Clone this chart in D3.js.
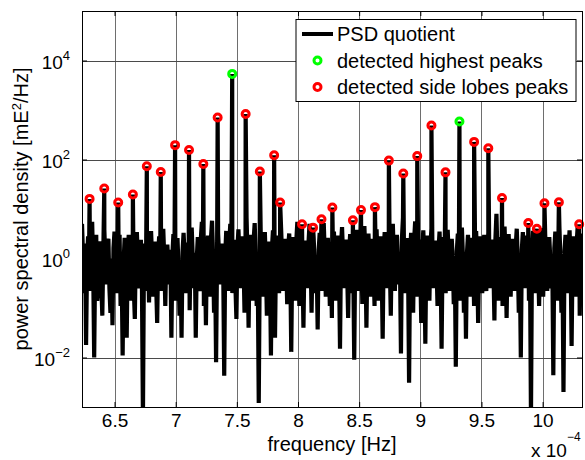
<!DOCTYPE html>
<html>
<head>
<meta charset="utf-8">
<script src="https://cdn.jsdelivr.net/npm/d3@7"></script>
<style>
  body { margin: 0; background: #fff; }
  svg { display: block; font-family: "Liberation Sans", Arial, sans-serif; }
</style>
</head>
<body>
<div id="chart"></div>
<script>
// frequency bins of the PSD quotient (Hz)
const binStart = 6.234e-4;
const binStep = 0.008305e-4;

// PSD quotient noise floor, one value per bin
const noiseValues = [
  5.0, 1.2, 0.2, 2.0, 0.018, 0.9, 2.8, 1.5, 0.22, 3.5, 5.5, 0.7, 0.01, 1.1, 3.0, 0.14, 0.25, 1.8, 2.2, 0.3,
  0.07, 1.4, 3.8, 0.9, 0.3, 2.1, 2.5, 0.25, 0.08, 1.0, 0.045, 1.6, 3.5, 1.2, 0.2, 0.8, 1.8, 3.0, 0.11, 0.7,
  0.011, 0.9, 2.6, 1.1, 0.025, 1.3, 3.0, 0.8, 0.14, 1.5, 1.6, 0.25, 0.06, 1.8, 3.4, 1.0, 0.25, 0.9, 2.4, 0.3,
  0.0006, 1.1, 2.0, 0.7, 0.22, 1.2, 0.13, 2.2, 3.6, 1.0, 0.17, 1.6, 2.2, 0.3, 0.05, 1.3, 2.8, 1.1, 0.22, 2.1,
  4.0, 1.0, 0.11, 1.3, 1.9, 0.8, 0.3, 1.5, 0.025, 1.2, 3.1, 0.9, 0.14, 1.7, 2.6, 0.7, 0.07, 0.9, 0.025, 1.4,
  3.3, 1.2, 0.2, 1.0, 2.1, 0.3, 0.09, 2.4, 4.2, 1.1, 0.25, 1.3, 0.025, 1.0, 2.7, 0.8, 0.22, 2.5, 5.5, 1.4,
  0.11, 0.9, 0.045, 1.5, 2.9, 1.0, 0.17, 2.6, 5.8, 1.2, 0.08, 0.8, 0.008, 1.4, 3.2, 1.1, 0.3, 1.3, 2.0, 0.7,
  0.0043, 1.2, 3.6, 0.9, 0.22, 2.2, 5.0, 1.3, 0.2, 1.0, 2.4, 0.3, 0.06, 1.6, 3.9, 1.1, 0.25, 1.4, 2.8, 0.9,
  0.08, 2.5, 6.8, 1.0, 0.04, 1.3, 3.0, 0.8, 0.14, 2.4, 5.2, 1.1, 0.11, 0.6, 0.0012, 0.9, 2.6, 1.2, 0.17, 1.5,
  3.4, 0.8, 0.07, 1.1, 2.2, 0.7, 0.011, 1.6, 3.7, 0.9, 0.025, 1.2, 2.9, 1.0, 0.2, 2.0, 4.1, 1.1, 0.22, 1.3,
  2.5, 0.9, 0.12, 1.7, 3.2, 0.8, 0.013, 1.2, 2.7, 1.0, 0.14, 2.3, 5.5, 1.2, 0.11, 1.4, 3.0, 0.7, 0.04, 1.1,
  2.3, 1.0, 0.25, 2.1, 5.0, 1.1, 0.08, 1.3, 2.8, 0.9, 0.2, 0.8, 0.037, 1.5, 3.3, 1.0, 0.22, 2.2, 5.2, 1.2,
  0.17, 1.4, 2.6, 0.8, 0.11, 1.0, 0.063, 1.7, 3.5, 1.1, 0.14, 1.3, 2.9, 0.7, 0.015, 1.9, 4.3, 1.2, 0.25, 1.0,
  2.4, 0.6, 0.063, 1.4, 3.1, 1.0, 0.2, 0.8, 0.009, 1.5, 3.8, 1.2, 0.22, 1.1, 2.7, 1.3, 0.12, 2.0, 4.5, 1.1,
  0.04, 1.2, 3.2, 1.0, 0.17, 1.4, 2.5, 0.7, 0.11, 1.8, 3.9, 0.9, 0.14, 1.3, 2.8, 0.6, 0.024, 1.5, 3.4, 1.0,
  0.25, 1.3, 2.2, 0.8, 0.07, 2.0, 5.0, 1.1, 0.22, 1.4, 3.0, 1.0, 0.3, 0.9, 0.012, 2.6, 6.8, 1.3, 0.2, 1.1,
  2.6, 0.7, 0.0031, 1.2, 3.3, 0.9, 0.08, 2.4, 5.6, 1.2, 0.17, 1.0, 2.4, 0.6, 0.05, 1.6, 3.7, 0.9, 0.019, 1.3,
  2.9, 1.0, 0.14, 1.8, 4.0, 1.1, 0.25, 1.2, 2.3, 0.7, 0.11, 1.5, 3.5, 0.8, 0.015, 1.3, 2.7, 1.0, 0.2, 1.6,
  3.8, 1.2, 0.22, 1.1, 2.5, 1.0, 0.12, 0.8, 0.0065, 1.4, 3.2, 0.9, 0.14, 2.0, 4.2, 1.1, 0.08, 0.9, 0.024, 1.3,
  3.0, 0.8, 0.17, 1.4, 2.6, 0.9, 0.11, 1.7, 3.6, 1.0, 0.05, 1.2, 2.8, 1.1, 0.2, 1.5, 3.0, 0.8, 0.22, 1.3,
  3.3, 1.0, 0.25, 1.2, 2.4, 0.7, 0.056, 2.5, 8.0, 1.2, 0.14, 1.3, 2.7, 0.8, 0.11, 1.9, 4.4, 1.0, 0.063, 1.2,
  3.1, 1.1, 0.17, 1.3, 2.5, 0.9, 0.22, 1.8, 4.0, 1.0, 0.08, 0.7, 0.01, 1.5, 3.4, 1.2, 0.25, 1.4, 2.9, 0.8,
  0.14, 0.9, 0.0006, 1.3, 3.6, 1.0, 0.2, 1.5, 2.6, 0.8, 0.11, 1.9, 4.1, 1.1, 0.17, 1.2, 3.0, 0.9, 0.22, 1.4,
  2.7, 1.0, 0.25, 0.8, 0.0044, 1.6, 3.5, 1.1, 0.14, 2.1, 4.3, 1.0, 0.08, 0.7, 0.002, 1.4, 3.0, 1.2, 0.2, 1.6,
  3.7, 0.9, 0.017, 1.3, 2.8, 1.0, 0.17, 2.0, 4.6, 1.1, 0.07, 1.5, 3.2
];

// detected highest peaks (green)
const highestPeakFreq = [7.462e-4, 9.320e-4];
const highestPeakVal = [5360, 586];

// detected side lobes peaks (red)
const sideLobeFreq = [
  6.296e-4, 6.416e-4, 6.530e-4, 6.650e-4, 6.764e-4, 6.878e-4, 6.995e-4, 7.109e-4,
  7.226e-4, 7.343e-4, 7.572e-4, 7.688e-4, 7.805e-4, 7.854e-4, 8.033e-4, 8.123e-4,
  8.192e-4, 8.281e-4, 8.449e-4, 8.515e-4, 8.629e-4, 8.743e-4, 8.861e-4, 8.975e-4,
  9.091e-4, 9.206e-4, 9.440e-4, 9.556e-4, 9.668e-4, 9.883e-4, 9.953e-4, 10.015e-4,
  10.133e-4, 10.299e-4
];
const sideLobeVal = [
  16, 26, 13.5, 19.6, 73, 56, 195, 156,
  81, 705, 833, 57, 122, 13.5, 4.9, 4.2,
  6.2, 10.7, 5.9, 9.5, 10.9, 95, 52, 117,
  486, 55, 227, 169, 16.7, 5.2, 4.0, 13.1,
  13.7, 4.9
];

const xTickValues = [6.5, 7, 7.5, 8, 8.5, 9, 9.5, 10]; // in units of 1e-4 Hz
const yTickExponents = [-2, 0, 2, 4];
const legendLabels = ["PSD quotient", "detected highest peaks", "detected side lobes peaks"];

const W = 585, H = 460;
const margin = { top: 11, right: 3, bottom: 53, left: 82 };
const width = W - margin.left - margin.right;
const height = H - margin.top - margin.bottom;

const svg = d3.select("#chart").append("svg")
  .attr("width", W)
  .attr("height", H);

const g = svg.append("g")
  .attr("transform", `translate(${margin.left},${margin.top})`);

const x = d3.scaleLinear().domain([6.234e-4, 10.322e-4]).range([0, width]);
const y = d3.scaleLog().domain([1e-3, 1e5]).range([height, 0]);

const xTicks = xTickValues.map(d => d * 1e-4);
const yTicks = yTickExponents.map(e => Math.pow(10, e));

// grid
g.append("g").selectAll("line")
  .data(xTicks).enter().append("line")
  .attr("x1", d => Math.round(x(d)) + 0.5).attr("x2", d => Math.round(x(d)) + 0.5)
  .attr("y1", 0).attr("y2", height)
  .attr("stroke", "#6e6e6e").attr("stroke-width", 1);
g.append("g").selectAll("line")
  .data(yTicks).enter().append("line")
  .attr("y1", d => Math.round(y(d)) + 0.5).attr("y2", d => Math.round(y(d)) + 0.5)
  .attr("x1", 0).attr("x2", width)
  .attr("stroke", "#4a4a4a").attr("stroke-width", 1);

// combine noise bins and peaks into one trace
const trace = noiseValues.map((v, i) => ({ f: binStart + i * binStep, v: v }));
highestPeakFreq.forEach((f, i) => trace.push({ f: f, v: highestPeakVal[i] }));
sideLobeFreq.forEach((f, i) => trace.push({ f: f, v: sideLobeVal[i] }));
trace.sort((a, b) => a.f - b.f);

svg.append("defs").append("clipPath").attr("id", "plot-clip")
  .append("rect").attr("width", width).attr("height", height);

const line = d3.line().x(d => x(d.f)).y(d => y(d.v));

g.append("path")
  .datum(trace)
  .attr("clip-path", "url(#plot-clip)")
  .attr("d", line)
  .attr("fill", "none")
  .attr("stroke", "#000")
  .attr("stroke-width", 4.2)
  .attr("stroke-linejoin", "miter");

// peak markers
g.append("g").selectAll("circle")
  .data(sideLobeFreq.map((f, i) => [f, sideLobeVal[i]]))
  .enter().append("circle")
  .attr("cx", d => x(d[0])).attr("cy", d => y(d[1]))
  .attr("r", 3.5).attr("fill", "none")
  .attr("stroke", "#ff0000").attr("stroke-width", 3);

g.append("g").selectAll("circle")
  .data(highestPeakFreq.map((f, i) => [f, highestPeakVal[i]]))
  .enter().append("circle")
  .attr("cx", d => x(d[0])).attr("cy", d => y(d[1]))
  .attr("r", 3.5).attr("fill", "none")
  .attr("stroke", "#00ff00").attr("stroke-width", 3);

// axes
const xAxis = g.append("g")
  .attr("transform", `translate(0,${height})`)
  .call(d3.axisBottom(x).tickValues(xTicks).tickSizeInner(-5).tickSizeOuter(0).tickPadding(7)
    .tickFormat(d => d3.format("~g")(+(d * 1e4).toFixed(2))));
xAxis.attr("font-size", 19).attr("font-family", null);
xAxis.select(".domain").remove();
xAxis.selectAll(".tick text").attr("fill", "#000");

g.append("g")
  .call(d3.axisTop(x).tickValues(xTicks).tickSizeInner(-5).tickSizeOuter(0).tickFormat(""))
  .select(".domain").remove();

const yAxis = g.append("g")
  .call(d3.axisLeft(y).tickValues(yTicks).tickSizeInner(-5).tickSizeOuter(0).tickPadding(12).tickFormat(""));
yAxis.attr("font-size", 19).attr("font-family", null);
yAxis.select(".domain").remove();
yAxis.selectAll(".tick text").each(function (d) {
  const t = d3.select(this).attr("dy", "0.42em").attr("fill", "#000").text(null);
  const e = Math.round(Math.log10(d));
  t.append("tspan").text("10");
  t.append("tspan").attr("dy", -9).attr("font-size", 13).text(e < 0 ? "\u2212" + (-e) : String(e));
});

g.append("g")
  .attr("transform", `translate(${width},0)`)
  .call(d3.axisRight(y).tickValues(yTicks).tickSizeInner(-5).tickSizeOuter(0).tickFormat(""))
  .select(".domain").remove();

g.selectAll(".tick line").attr("stroke", "#000");

// frame
g.append("rect")
  .attr("x", 0.5).attr("y", 0.5)
  .attr("width", width).attr("height", height)
  .attr("fill", "none").attr("stroke", "#000").attr("stroke-width", 1);

// axis labels
svg.append("text")
  .attr("x", margin.left + width / 2)
  .attr("y", 451)
  .attr("text-anchor", "middle")
  .attr("font-size", 20)
  .text("frequency [Hz]");

const mult = svg.append("text")
  .attr("x", 531)
  .attr("y", 457)
  .attr("font-size", 19);
mult.append("tspan").text("x 10");
mult.append("tspan").attr("dy", -16).attr("font-size", 12).text("\u22124");

const ylab = svg.append("text")
  .attr("transform", `translate(28,${margin.top + height / 2}) rotate(-90)`)
  .attr("text-anchor", "middle")
  .attr("font-size", 20);
ylab.append("tspan").text("power spectral density [mE");
ylab.append("tspan").attr("dy", -7).attr("font-size", 13).text("2");
ylab.append("tspan").attr("dy", 7).text("/Hz]");

// legend
const legend = svg.append("g").attr("transform", "translate(296,19.5)");
legend.append("rect")
  .attr("width", 280).attr("height", 82)
  .attr("fill", "#fff").attr("stroke", "#000").attr("stroke-width", 1);

const rowY = [14.5, 41, 67.5];
legend.append("line")
  .attr("x1", 6).attr("x2", 37).attr("y1", rowY[0]).attr("y2", rowY[0])
  .attr("stroke", "#000").attr("stroke-width", 4);
legend.append("circle")
  .attr("cx", 21.5).attr("cy", rowY[1]).attr("r", 3.5)
  .attr("fill", "none").attr("stroke", "#00ff00").attr("stroke-width", 3);
legend.append("circle")
  .attr("cx", 21.5).attr("cy", rowY[2]).attr("r", 3.5)
  .attr("fill", "none").attr("stroke", "#ff0000").attr("stroke-width", 3);

legend.selectAll("text.lbl")
  .data(legendLabels).enter().append("text")
  .attr("class", "lbl")
  .attr("x", 41)
  .attr("y", (d, i) => rowY[i] + 7)
  .attr("font-size", 20)
  .text(d => d);
</script>
</body>
</html>
